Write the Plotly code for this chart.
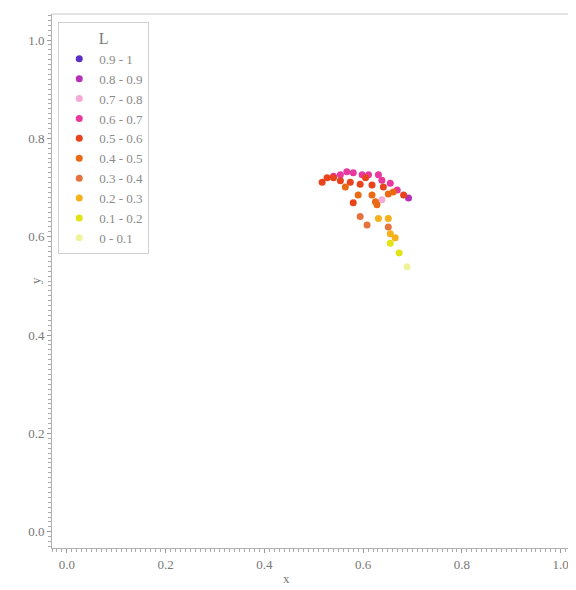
import plotly.graph_objects as go

groups = ["0.9 - 1", "0.8 - 0.9", "0.7 - 0.8", "0.6 - 0.7", "0.5 - 0.6",
          "0.4 - 0.5", "0.3 - 0.4", "0.2 - 0.3", "0.1 - 0.2", "0 - 0.1"]
colors = ["#5a2fc4", "#b52fb8", "#f4a9d6", "#e8399f", "#e8431c",
          "#ea6a14", "#e6733e", "#f6b11a", "#e3e212", "#eff39c"]

x_09_1 = [None]
y_09_1 = [None]
x_08_09 = [0.692]
y_08_09 = [0.679]
x_07_08 = [0.638]
y_07_08 = [0.675]
x_06_07 = [0.567, 0.580, 0.554, 0.598, 0.611, 0.631, 0.638, 0.655, 0.669, 0.540]
y_06_07 = [0.732, 0.730, 0.726, 0.726, 0.726, 0.726, 0.715, 0.709, 0.695, 0.723]
x_05_06 = [0.517, 0.527, 0.540, 0.554, 0.574, 0.594, 0.618, 0.641, 0.682, 0.580, 0.605]
y_05_06 = [0.711, 0.720, 0.720, 0.714, 0.711, 0.707, 0.705, 0.701, 0.685, 0.669, 0.720]
x_04_05 = [0.661, 0.590, 0.618, 0.625, 0.628, 0.564, 0.651]
y_04_05 = [0.691, 0.685, 0.685, 0.671, 0.665, 0.701, 0.687]
x_03_04 = [0.594, 0.608, 0.651]
y_03_04 = [0.641, 0.624, 0.620]
x_02_03 = [0.631, 0.651, 0.655, 0.665]
y_02_03 = [0.637, 0.637, 0.606, 0.598]
x_01_02 = [0.655, 0.673]
y_01_02 = [0.587, 0.567]
x_0_01 = [0.689]
y_0_01 = [0.539]

xs = [x_09_1, x_08_09, x_07_08, x_06_07, x_05_06, x_04_05, x_03_04, x_02_03, x_01_02, x_0_01]
ys = [y_09_1, y_08_09, y_07_08, y_06_07, y_05_06, y_04_05, y_03_04, y_02_03, y_01_02, y_0_01]

x_ticks = [0.0, 0.2, 0.4, 0.6, 0.8, 1.0]
y_ticks = [0.0, 0.2, 0.4, 0.6, 0.8, 1.0]

fig = go.Figure()
for name, col, xv, yv in zip(groups, colors, xs, ys):
    fig.add_trace(go.Scatter(x=xv, y=yv, mode="markers", name=name, showlegend=True,
                             marker=dict(color=col, size=7, line=dict(width=0))))

font = dict(family="Liberation Serif", size=13, color="#777777")
axis_common = dict(showgrid=False, zeroline=False, showline=True, linecolor="#b0b0b0",
                   linewidth=1, mirror=False, ticks="outside", ticklen=4, tickcolor="#999999",
                   tickfont=font, tickformat=".1f", automargin=False,
                   minor=dict(ticks="outside", ticklen=3, tickcolor="#aaaaaa", dtick=0.01))

# page body adds an 8px offset; figure sized to fit the 576x590 window
fig.update_layout(
    width=568, height=582,
    margin=dict(l=44, r=3, t=6, b=42),
    plot_bgcolor="white", paper_bgcolor="white",
    font=font,
    xaxis=dict(range=[-0.03, 1.025], tickvals=x_ticks, **axis_common),
    yaxis=dict(range=[-0.033, 1.053], tickvals=y_ticks, **axis_common),
    legend=dict(x=0.012, y=0.985, xanchor="left", yanchor="top",
                bgcolor="white", bordercolor="#d0d0d0", borderwidth=1,
                font=dict(family="Liberation Serif", size=13, color="#8a8a8a"),
                title=dict(text="L", side="top center",
                           font=dict(family="Liberation Serif", size=16, color="#7a7a7a")),
                itemsizing="trace", itemwidth=30, tracegroupgap=0),
    annotations=[
        dict(text="x", xref="paper", yref="paper", x=0.45, y=0, yshift=-30,
             showarrow=False, font=font, yanchor="middle"),
        dict(text="y", xref="paper", yref="paper", x=0, xshift=-17, y=0.5,
             showarrow=False, font=font, textangle=-90, xanchor="center"),
    ],
    shapes=[dict(type="line", xref="paper", yref="paper", x0=0, x1=1, y0=1, y1=1,
                 line=dict(color="#c8c8c8", width=1)),
            dict(type="line", xref="paper", yref="paper", x0=1, x1=1, y0=0, y1=1,
                 line=dict(color="#e0e0e0", width=1))],
)

fig.write_html("out.html")
